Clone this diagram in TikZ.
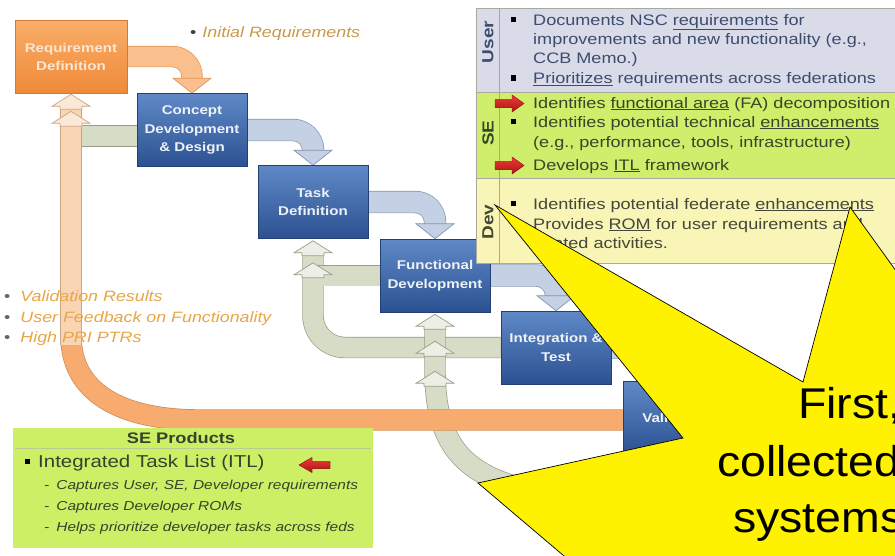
\documentclass[tikz,border=0pt]{standalone}
\usepackage{fontspec}
\setmainfont{Liberation Sans}[FakeStretch=1.19]
\newfontfamily\starfont{Liberation Sans}[FakeStretch=1.08]
\usetikzlibrary{calc}
\pgfdeclarelayer{bgl}
\pgfdeclarelayer{bandl}
\pgfdeclarelayer{topl}
\pgfsetlayers{bgl,bandl,main,topl}

\definecolor{bluetop}{HTML}{5F89C6}
\definecolor{bluebot}{HTML}{2C5192}
\definecolor{blueedge}{HTML}{243F74}
\definecolor{boxtx}{HTML}{EEF2F8}
\definecolor{orgtop}{HTML}{F9AE68}
\definecolor{orgbot}{HTML}{EF8A3A}
\definecolor{orgedge}{HTML}{D07A34}
\definecolor{reqtx}{HTML}{FCE6D2}
\definecolor{barfill}{HTML}{C4D0E3}
\definecolor{baredge}{HTML}{8494B2}
\definecolor{oarfill}{HTML}{F9BF8C}
\definecolor{oaredge}{HTML}{E09655}
\definecolor{gfill}{HTML}{D7DCC6}
\definecolor{gedge}{HTML}{969E86}
\definecolor{glight}{HTML}{EDEFE6}
\definecolor{fbfill}{HTML}{F8AB6E}
\definecolor{fbedge}{HTML}{CF8A52}
\definecolor{fbpale}{HTML}{FAD5B4}
\definecolor{fbpaleedge}{HTML}{C9A586}
\definecolor{userbg}{HTML}{D9DBE8}
\definecolor{sebg}{HTML}{CFEE6C}
\definecolor{devbg}{HTML}{F8F5B6}
\definecolor{usertx}{HTML}{3E4C6E}
\definecolor{setx}{HTML}{37472A}
\definecolor{devtx}{HTML}{45473A}
\definecolor{annoA}{HTML}{C99A4A}
\definecolor{annoB}{HTML}{E8A647}
\definecolor{prodbg}{HTML}{CDEF66}
\definecolor{prodtx}{HTML}{34432C}
\definecolor{redA}{HTML}{F03A35}
\definecolor{redB}{HTML}{A81616}
\definecolor{tblline}{HTML}{A8A8A0}

\newcommand{\hdown}[2]{\filldraw[#2] ($(#1)+(-19,-15)$) -- (#1) -- ($(#1)+(19,-15)$) -- cycle;}
\newcommand{\chup}[2]{\filldraw[#2] (#1) -- ++(19,12) -- ++(-8,0) -- ++(0,3) -- ++(-22,0) -- ++(0,-3) -- ++(-8,0) -- cycle;}
\newcommand{\sqb}[3]{\fill[#3] (#1-2.6,#2-2.6) rectangle (#1+2.6,#2+2.6);}
\newcommand{\rarr}[2]{\filldraw[top color=redA, bottom color=redB, draw=redB, line width=0.4pt] (#1,#2) ++(0,-4) -- ++(17,0) -- ++(0,-4.5) -- ++(12,8.5) -- ++(-12,8.5) -- ++(0,-4.5) -- ++(-17,0) -- cycle;}
\newcommand{\larr}[2]{\filldraw[top color=redA, bottom color=redB, draw=redB, line width=0.4pt] (#1,#2) ++(0,-3.5) -- ++(-18,0) -- ++(0,-4) -- ++(-13,7.5) -- ++(13,7.5) -- ++(0,-4) -- ++(18,0) -- cycle;}

\begin{document}
\begin{tikzpicture}[x=1pt,y=-1pt,
  reqbox/.style={draw=orgedge, line width=0.6pt, top color=orgtop, bottom color=orgbot, minimum width=112pt, minimum height=73pt, inner sep=0pt, align=center, text=reqtx, font=\fontsize{12.7}{18}\selectfont\bfseries},
  bluebox/.style={draw=blueedge, line width=0.6pt, top color=bluetop, bottom color=bluebot, minimum width=110pt, minimum height=73pt, inner sep=0pt, align=center, text=boxtx, font=\fontsize{12.7}{18.5}\selectfont\bfseries},
  bband/.style={draw=baredge, line width=0.7pt, double=barfill, double distance=21pt, rounded corners=20pt},
  oband/.style={draw=oaredge, line width=0.7pt, double=oarfill, double distance=20pt, rounded corners=20pt},
  gband/.style={draw=gedge, line width=0.7pt, double=gfill, double distance=20pt},
  fbband/.style={draw=fbedge, line width=0.7pt, double=fbfill, double distance=20pt},
  fbpband/.style={draw=fbpaleedge, line width=0.7pt, double=fbpale, double distance=20pt},
  bhead/.style={fill=barfill, draw=baredge, line width=0.7pt},
  ohead/.style={fill=oarfill, draw=oaredge, line width=0.7pt},
  gchev/.style={fill=glight, draw=gedge, line width=0.7pt},
  ochev/.style={fill=fbpale!55!white, draw=fbpaleedge, line width=0.7pt},
  tline/.style={anchor=base west, inner sep=0pt, font=\fontsize{15.2}{18}\selectfont},
  anno/.style={anchor=base west, inner sep=0pt, font=\fontsize{15}{18}\selectfont},
  rowlab/.style={rotate=90, inner sep=0pt, font=\fontsize{16}{16}\selectfont\bfseries},
  subl/.style={anchor=base west, inner sep=0pt, text=prodtx, font=\fontsize{13}{15}\selectfont\itshape},
  bigtx/.style={anchor=base west, inner sep=0pt, text=black, font=\starfont\fontsize{43}{50}\selectfont}
]
\useasboundingbox (0,0) rectangle (895,555);
\clip (0,0) rectangle (895,555);
\begin{pgfonlayer}{bgl}
\fill[white] (0,0) rectangle (895,555);
\end{pgfonlayer}

% ---------- process boxes ----------
\node[reqbox] (req) at (71,56.5) {Requirement\\Definition};
\node[bluebox] (cdd) at (192,130) {Concept\\Development\\\& Design};
\node[bluebox] (task) at (313,202) {Task\\Definition};
\node[bluebox] (func) at (435,275.5) {Functional\\Development};
\node[bluebox] (integ) at (556,347.5) {Integration \&\\Test};
\node[bluebox] (valid) at (678,418) {Validation};

% ---------- bands ----------
\begin{pgfonlayer}{bandl}
% feedback (grey-green)
\draw[gband, rounded corners=32pt] (integ.west) -- (integ.west -| task.south) -- ($(task.south)+(0,14)$);
\draw[gband] (func.west) -- (func.west -| task.south);
\coordinate (g1s) at ($(cdd.west)+(0,6)$);
\draw[gband] (g1s) -- (g1s -| req.south);
\coordinate (g4src) at (640,495);
\draw[gband] (g4src) -- (530,490) .. controls (460,475) and (435,440) .. (435,370) -- ($(func.south)+(0,14)$);
% orange feedback from validation
\coordinate (fbA) at ($(valid.west)+(0,2)$);
\draw[fbband] (fbA) -- (200,420) .. controls (120,420) and (71,392) .. (71,336);
\draw[fbpband] (71,345) -- ($(req.south)+(0,14)$);
% chevrons
\chup{$(req.south)+(0,18)$}{ochev}
\chup{$(req.south)+(0,1)$}{ochev}
\chup{$(task.south)+(0,24)$}{gchev}
\chup{$(task.south)+(0,2)$}{gchev}
\chup{$(func.south)+(0,59)$}{gchev}
\chup{$(func.south)+(0,29)$}{gchev}
\chup{$(func.south)+(0,2)$}{gchev}
% forward arrows
\draw[oband] (req.east) -- (req.east -| cdd.north) -- ($(cdd.north)+(0,-14)$);
\hdown{cdd.north}{ohead}
\draw[bband] (cdd.east) -- (cdd.east -| task.north) -- ($(task.north)+(0,-14)$);
\hdown{task.north}{bhead}
\draw[bband] (task.east) -- (task.east -| func.north) -- ($(func.north)+(0,-14)$);
\hdown{func.north}{bhead}
\draw[bband] (func.east) -- (func.east -| integ.north) -- ($(integ.north)+(0,-14)$);
\hdown{integ.north}{bhead}
\draw[bband] (integ.east) -- (integ.east -| valid.north) -- ($(valid.north)+(0,-14)$);
\hdown{valid.north}{bhead}
\end{pgfonlayer}

% ---------- annotations ----------
\node[anno] (ir) at (190,37) {\textcolor{black!75}{•}\hspace{6pt}\textcolor{annoA}{\itshape Initial Requirements}};
\node[anno] (vr) at (4,301) {\textcolor{black!60}{•}\hspace{10pt}\textcolor{annoB}{\itshape Validation Results}};
\node[anno] (uf) at (4,322) {\textcolor{black!60}{•}\hspace{10pt}\textcolor{annoB}{\itshape User Feedback on Functionality}};
\node[anno] (hp) at (4,342) {\textcolor{black!60}{•}\hspace{10pt}\textcolor{annoB}{\itshape High PRI PTRs}};

\begin{pgfonlayer}{topl}
% ---------- role table ----------
\fill[userbg] (476,8) rectangle (895,92);
\fill[sebg] (476,92) rectangle (895,178);
\fill[devbg] (476,178) rectangle (895,263);
\draw[tblline, line width=0.6pt] (476,8) -- (895,8) (476,92) -- (895,92) (476,178) -- (895,178) (476,263) -- (895,263);
\draw[tblline, line width=0.6pt] (476,8) -- (476,263) (499,8) -- (499,263);
\node[rowlab, text=usertx] (lu) at (488,42) {User};
\node[rowlab, text=setx] (ls) at (488,133) {SE};
\node[rowlab, text=devtx] (ld) at (488,222) {Dev};

\sqb{513.5}{19.5}{black}
\node[tline, text=usertx] (u1) at (533,25) {Documents NSC \underline{requirements} for};
\node[tline, text=usertx] (u2) at (533,44) {improvements and new functionality (e.g.,};
\node[tline, text=usertx] (u3) at (533,63) {CCB Memo.)};
\sqb{513.5}{78}{black}
\node[tline, text=usertx] (u4) at (533,83.5) {\underline{Prioritizes} requirements across federations};

\rarr{495}{103.5}
\node[tline, text=setx] (s1) at (533,108) {Identifies \underline{functional area} (FA) decomposition};
\sqb{513.5}{121.5}{black}
\node[tline, text=setx] (s2) at (533,127) {Identifies potential technical \underline{enhancements}};
\node[tline, text=setx] (s3) at (533,147) {(e.g., performance, tools, infrastructure)};
\rarr{495}{165.5}
\node[tline, text=setx] (s4) at (533,170) {Develops \underline{ITL} framework};

\sqb{513.5}{203.5}{black}
\node[tline, text=devtx] (d1) at (533,209) {Identifies potential federate \underline{enhancements}};
\sqb{513.5}{223.5}{black}
\node[tline, text=devtx] (d2) at (533,229) {Provides \underline{ROM} for user requirements and};
\node[tline, text=devtx] (d3) at (533,248) {related activities.};

% ---------- SE products ----------
\fill[prodbg] (13,428) rectangle (373,548);
\draw[prodbg!70!black!60!white, line width=0.5pt] (15,448) -- (371,448);
\node[anchor=base, inner sep=0pt, text=prodtx, font=\fontsize{15.3}{18}\selectfont\bfseries] (spt) at (181,443) {SE Products};
\sqb{27.5}{461.5}{black}
\node[anchor=base west, inner sep=0pt, text=prodtx, font=\fontsize{17.2}{20}\selectfont] (itl) at (38,467) {Integrated Task List (ITL)};
\larr{330}{465}
\node[subl] (p1) at (44,489) {-\hspace{7pt}Captures User, SE, Developer requirements};
\node[subl] (p2) at (44,510) {-\hspace{7pt}Captures Developer ROMs};
\node[subl] (p3) at (44,531) {-\hspace{7pt}Helps prioritize developer tasks across feds};

% ---------- callout star ----------
\filldraw[fill=yellow, draw=black, line width=0.7pt] (478,483) -- (683,438) -- (495,205) -- (803,382) -- (850,207) -- (935,325) -- (1000,650) -- (610,595) -- cycle;
\node[bigtx] (t1) at (798,418) {First,};
\node[bigtx] (t2) at (717,476) {collected};
\node[bigtx] (t3) at (733,532) {systems};
\end{pgfonlayer}
\end{tikzpicture}
\end{document}
